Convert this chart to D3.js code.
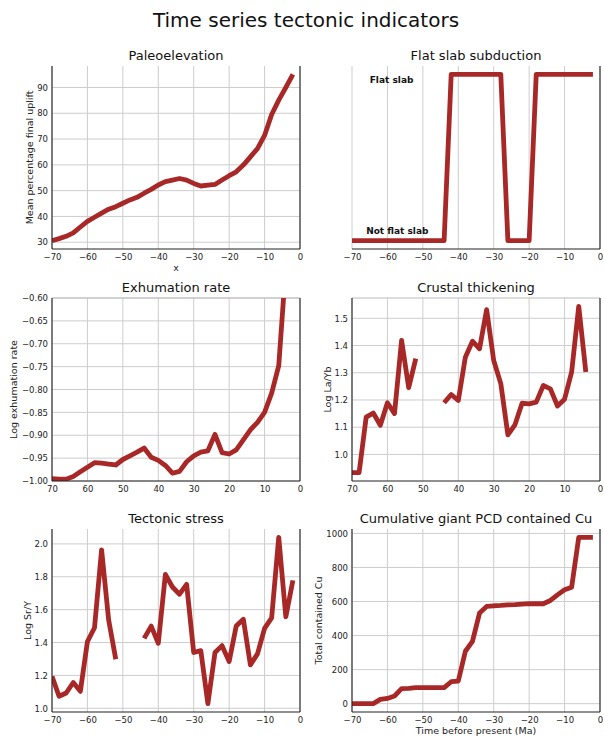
<!DOCTYPE html>
<html>
<head>
<meta charset="utf-8">
<script src="https://cdn.jsdelivr.net/npm/d3@7"></script>
<style>
  body { margin: 0; background: #fff; }
  svg { display: block; font-family: "DejaVu Sans", sans-serif; }
</style>
</head>
<body>
<svg id="chart" width="604" height="737"></svg>
<script>
// Time axis: million years before present (negative) and the same ages as positive Ma
const agesBP = [-70,-68,-66,-64,-62,-60,-58,-56,-54,-52,-50,-48,-46,-44,-42,-40,-38,-36,-34,-32,-30,-28,-26,-24,-22,-20,-18,-16,-14,-12,-10,-8,-6,-4,-2];
const agesMa = [70,68,66,64,62,60,58,56,54,52,50,48,46,44,42,40,38,36,34,32,30,28,26,24,22,20,18,16,14,12,10,8,6,4,2];

// Series (null = no sample in that interval)
const paleoelevation = [30.6,31.4,32.3,33.6,35.9,38.1,39.7,41.3,42.8,43.8,45.1,46.4,47.4,49.0,50.5,52.2,53.5,54.1,54.7,54.1,52.8,51.8,52.1,52.4,54.1,55.8,57.3,59.9,63.1,66.3,71.4,79.5,85.1,90.0,95.1];
const flatSlab = [0,0,0,0,0,0,0,0,0,0,0,0,0,0,1,1,1,1,1,1,1,1,0,0,0,0,1,1,1,1,1,1,1,1,1];
const exhumation = [-0.995,-0.996,-0.996,-0.990,-0.980,-0.970,-0.960,-0.961,-0.963,-0.965,-0.953,-0.945,-0.937,-0.928,-0.948,-0.955,-0.966,-0.983,-0.979,-0.958,-0.945,-0.937,-0.934,-0.898,-0.938,-0.941,-0.932,-0.910,-0.888,-0.872,-0.850,-0.808,-0.748,-0.53,null];
const laYb = [0.933,0.933,1.137,1.152,1.107,1.190,1.150,1.419,1.245,1.352,null,null,null,1.190,1.220,1.198,1.357,1.416,1.388,1.532,1.345,1.260,1.072,1.109,1.188,1.186,1.192,1.253,1.241,1.178,1.203,1.303,1.544,1.303,null];
const srY = [1.194,1.073,1.093,1.157,1.103,1.405,1.490,1.964,1.536,1.298,null,null,null,1.425,1.500,1.395,1.814,1.738,1.694,1.754,1.339,1.351,1.028,1.339,1.381,1.284,1.500,1.542,1.264,1.331,1.486,1.550,2.040,1.556,1.778];
const copper = [0,0,0,0,25,31,45,88,90,94,94,94,94,94,129,133,308,366,532,571,575,577,580,582,585,587,587,587,606,639,669,684,977,977,977];

// Tick values
const xTicksBP = [-70,-60,-50,-40,-30,-20,-10,0];
const xTicksMa = [70,60,50,40,30,20,10,0];
const paleoTicks = [30,40,50,60,70,80,90];
const exhumTicks = [-1.0,-0.95,-0.9,-0.85,-0.8,-0.75,-0.7,-0.65,-0.6];
const laYbTicks = [1.0,1.1,1.2,1.3,1.4,1.5];
const srYTicks = [1.0,1.2,1.4,1.6,1.8,2.0];
const copperTicks = [0,200,400,600,800,1000];

// State labels on the flat-slab panel (data coordinates)
const slabLabels = [
  { text: "Flat slab", x: -65, y: 0.95 },
  { text: "Not flat slab", x: -66, y: 0.04 }
];

const LINE_COLOR = "#a82828";
const GRID_COLOR = "#cdcdcd";
const SPINE_COLOR = "#222";

// Autoscale with a 5% margin on each side
function padded(values) {
  const v = values.filter(d => d != null);
  const lo = d3.min(v), hi = d3.max(v), m = (hi - lo) * 0.05;
  return [lo - m, hi + m];
}

const cols = [52, 352], rows = [66, 298, 529];
const W = 248, H = 183;

const panels = [
  { title: "Paleoelevation", col: 0, row: 0, ages: agesBP, values: paleoelevation,
    xDomain: [-70, 0], xTicks: xTicksBP, yDomain: padded(paleoelevation), yTicks: paleoTicks,
    yFmt: d3.format("d"), yLabel: "Mean percentage final uplift", yLabelX: 29, xLabel: "x", leftSpine: true },
  { title: "Flat slab subduction", col: 1, row: 0, ages: agesBP, values: flatSlab,
    xDomain: [-70, 0], xTicks: xTicksBP, yDomain: padded(flatSlab), yTicks: [],
    yFmt: null, yLabel: null, leftSpine: false, labels: slabLabels },
  { title: "Exhumation rate", col: 0, row: 1, ages: agesMa, values: exhumation,
    xDomain: [70, 0], xTicks: xTicksMa, yDomain: [-1.0, -0.6], yTicks: exhumTicks,
    yFmt: d3.format(".2f"), yLabel: "Log exhumation rate", yLabelX: 13, leftSpine: true, topLine: true },
  { title: "Crustal thickening", col: 1, row: 1, ages: agesMa, values: laYb,
    xDomain: [70, 0], xTicks: xTicksMa, yDomain: padded(laYb), yTicks: laYbTicks,
    yFmt: d3.format(".1f"), yLabel: "Log La/Yb", yLabelX: 327, leftSpine: true, topLine: true },
  { title: "Tectonic stress", col: 0, row: 2, ages: agesBP, values: srY,
    xDomain: [-70, 0], xTicks: xTicksBP, yDomain: padded(srY), yTicks: srYTicks,
    yFmt: d3.format(".1f"), yLabel: "Log Sr/Y", yLabelX: 27, leftSpine: true },
  { title: "Cumulative giant PCD contained Cu", col: 1, row: 2, ages: agesBP, values: copper,
    xDomain: [-70, 0], xTicks: xTicksBP, yDomain: padded(copper), yTicks: copperTicks,
    yFmt: d3.format("d"), yLabel: "Total contained Cu", yLabelX: 318,
    xLabel: "Time before present (Ma)", leftSpine: true }
];

const svg = d3.select("#chart");

svg.append("text")
  .attr("x", 306).attr("y", 27)
  .attr("text-anchor", "middle")
  .attr("font-size", 20)
  .attr("fill", "#111")
  .text("Time series tectonic indicators");

const xFmt = d3.format("d");

panels.forEach((p, i) => {
  const x0 = cols[p.col], y0 = rows[p.row];
  const x = d3.scaleLinear().domain(p.xDomain).range([0, W]);
  const y = d3.scaleLinear().domain(p.yDomain).range([H, 0]);

  const g = svg.append("g").attr("transform", `translate(${x0},${y0})`);

  g.append("clipPath").attr("id", "clip" + i)
    .append("rect").attr("width", W).attr("height", H);

  // grid
  g.append("g").selectAll("line").data(p.xTicks).join("line")
    .attr("x1", d => x(d)).attr("x2", d => x(d))
    .attr("y1", 0).attr("y2", H)
    .attr("stroke", GRID_COLOR).attr("stroke-width", 1);
  g.append("g").selectAll("line").data(p.yTicks).join("line")
    .attr("x1", 0).attr("x2", W)
    .attr("y1", d => y(d)).attr("y2", d => y(d))
    .attr("stroke", GRID_COLOR).attr("stroke-width", 1);

  if (p.topLine) {
    g.append("line").attr("x1", 0).attr("x2", W).attr("y1", 0).attr("y2", 0)
      .attr("stroke", "#bbb").attr("stroke-width", 1);
  }

  // series line
  const pts = p.ages.map((a, k) => ({ a, v: p.values[k] }));
  const line = d3.line()
    .defined(d => d.v != null)
    .x(d => x(d.a)).y(d => y(d.v));
  g.append("path")
    .datum(pts)
    .attr("clip-path", `url(#clip${i})`)
    .attr("fill", "none")
    .attr("stroke", LINE_COLOR)
    .attr("stroke-width", 4.8)
    .attr("stroke-linejoin", "round")
    .attr("stroke-linecap", "butt")
    .attr("d", line);

  // spines
  const spine = (x1, y1, x2, y2) => g.append("line")
    .attr("x1", x1).attr("y1", y1).attr("x2", x2).attr("y2", y2)
    .attr("stroke", SPINE_COLOR).attr("stroke-width", 1.1);
  spine(0, H, W, H);
  spine(W, 0, W, H);
  if (p.leftSpine) spine(0, 0, 0, H);

  // x tick labels
  const xAxis = d3.axisBottom(x).tickValues(p.xTicks).tickFormat(xFmt).tickSize(0).tickPadding(5);
  const xa = g.append("g").attr("transform", `translate(0,${H})`).call(xAxis);
  xa.select(".domain").remove();
  xa.selectAll("text").attr("font-size", 8.5).attr("fill", "#222")
    .attr("font-family", '"DejaVu Sans", sans-serif');

  // y tick labels
  if (p.yTicks.length) {
    const yAxis = d3.axisLeft(y).tickValues(p.yTicks).tickFormat(p.yFmt).tickSize(0).tickPadding(4);
    const ya = g.append("g").call(yAxis);
    ya.select(".domain").remove();
    ya.selectAll("text").attr("font-size", 8.5).attr("fill", "#222")
      .attr("font-family", '"DejaVu Sans", sans-serif');
  }

  // titles and axis labels
  g.append("text").attr("x", W / 2).attr("y", -6)
    .attr("text-anchor", "middle").attr("font-size", 13).attr("fill", "#111")
    .text(p.title);

  if (p.yLabel) {
    svg.append("text")
      .attr("transform", `translate(${p.yLabelX},${y0 + H / 2}) rotate(-90)`)
      .attr("text-anchor", "middle").attr("dominant-baseline", "central")
      .attr("font-size", 9.5).attr("fill", "#222")
      .text(p.yLabel);
  }
  if (p.xLabel) {
    g.append("text").attr("x", W / 2).attr("y", H + 22)
      .attr("text-anchor", "middle").attr("font-size", 9.5).attr("fill", "#222")
      .text(p.xLabel);
  }

  if (p.labels) {
    g.selectAll("text.state").data(p.labels).join("text")
      .attr("class", "state")
      .attr("x", d => x(d.x)).attr("y", d => y(d.y))
      .attr("font-size", 9).attr("font-weight", "bold").attr("fill", "#111")
      .text(d => d.text);
  }
});
</script>
</body>
</html>
